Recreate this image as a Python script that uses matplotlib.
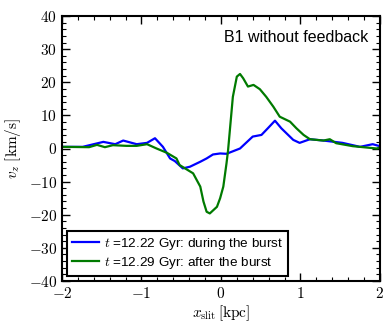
import matplotlib
matplotlib.use("Agg")
import matplotlib.pyplot as plt
from matplotlib.ticker import MultipleLocator

plt.rcParams['mathtext.fontset'] = 'cm'
plt.rcParams['font.family'] = ['Liberation Sans', 'DejaVu Sans']

blue_x = [-2.0, -1.74, -1.48, -1.33, -1.23, -1.06, -0.93, -0.83, -0.73, -0.64, -0.58, -0.48,
          -0.39, -0.26, -0.18, -0.10, -0.01, 0.07, 0.24, 0.40, 0.51, 0.59, 0.68, 0.76, 0.91,
          0.99, 1.12, 1.29, 1.53, 1.75, 1.91, 2.0]
blue_y = [0.5, 0.5, 2.0, 1.3, 2.4, 1.3, 1.7, 3.1, 0.5, -3.0, -3.8, -6.0,
          -5.5, -4.0, -3.0, -1.8, -1.5, -1.6, 0.0, 3.6, 4.1, 6.1, 8.4, 6.1, 2.6,
          1.7, 2.8, 2.4, 1.7, 0.5, 1.3, 0.7]

green_x = [-2.0, -1.66, -1.56, -1.46, -1.36, -1.19, -1.06, -0.93, -0.81, -0.68, -0.56, -0.52,
           -0.35, -0.26, -0.22, -0.18, -0.14, -0.05, -0.01, 0.03, 0.07, 0.09, 0.15, 0.20,
           0.24, 0.28, 0.34, 0.41, 0.49, 0.57, 0.66, 0.74, 0.87, 0.95, 1.04, 1.12, 1.29,
           1.37, 1.45, 1.66, 1.96, 2.0]
green_y = [0.5, 0.4, 1.1, 0.4, 1.0, 0.8, 0.8, 1.3, 0.0, -1.3, -3.0, -5.0,
           -7.5, -11.5, -16.0, -19.1, -19.6, -17.6, -15.0, -11.5, -4.5, -0.5, 15.6, 21.7,
           22.5, 21.2, 18.7, 19.2, 17.9, 15.6, 12.6, 9.6, 8.1, 6.1, 4.1, 2.8, 2.4,
           2.8, 1.6, 0.7, 0.0, 0.3]

labels = [r'$t$ =12.22 Gyr: during the burst', r'$t$ =12.29 Gyr: after the burst']

fig = plt.figure(figsize=(3.9, 3.3), dpi=100)
ax = fig.add_axes([0.159, 0.1485, 0.815, 0.803])
ax.plot(blue_x, blue_y, color='#0000ff', lw=1.6, label=labels[0])
ax.plot(green_x, green_y, color='#007a00', lw=1.6, label=labels[1])
ax.set_xlim(-2, 2)
ax.set_ylim(-40, 40)
ax.xaxis.set_major_locator(MultipleLocator(1))
ax.xaxis.set_minor_locator(MultipleLocator(0.2))
ax.yaxis.set_major_locator(MultipleLocator(10))
ax.yaxis.set_minor_locator(MultipleLocator(2))
ax.tick_params(which='both', direction='in', top=True, right=True)
ax.tick_params(which='major', length=6, width=1)
ax.tick_params(which='minor', length=3, width=0.8)
for s in ax.spines.values():
    s.set_linewidth(1.5)
ax.set_xticks([-2, -1, 0, 1, 2])
ax.set_xticklabels([r'$-2$', r'$-1$', r'$0$', r'$1$', r'$2$'], fontsize=11)
ax.set_yticks([-40, -30, -20, -10, 0, 10, 20, 30, 40])
ax.set_yticklabels([r'$%d$' % v for v in [-40, -30, -20, -10, 0, 10, 20, 30, 40]], fontsize=11)
ax.set_xlabel(r'$x_{\rm slit}\,[\rm kpc]$', fontsize=11, labelpad=2)
ax.set_ylabel(r'$v_z\ [\rm km/s]$', fontsize=11, labelpad=4)
ax.text(0.965, 0.92, 'B1 without feedback', transform=ax.transAxes, ha='right', va='center', fontsize=11.5)
leg = ax.legend(loc='lower left', fontsize=9.7, fancybox=False, framealpha=1, edgecolor='black',
                handlelength=2.0, handletextpad=0.4, borderaxespad=0.4, labelspacing=0.25,
                borderpad=0.35)
leg.get_frame().set_linewidth(1.5)
fig.savefig('out.png', dpi=100)
